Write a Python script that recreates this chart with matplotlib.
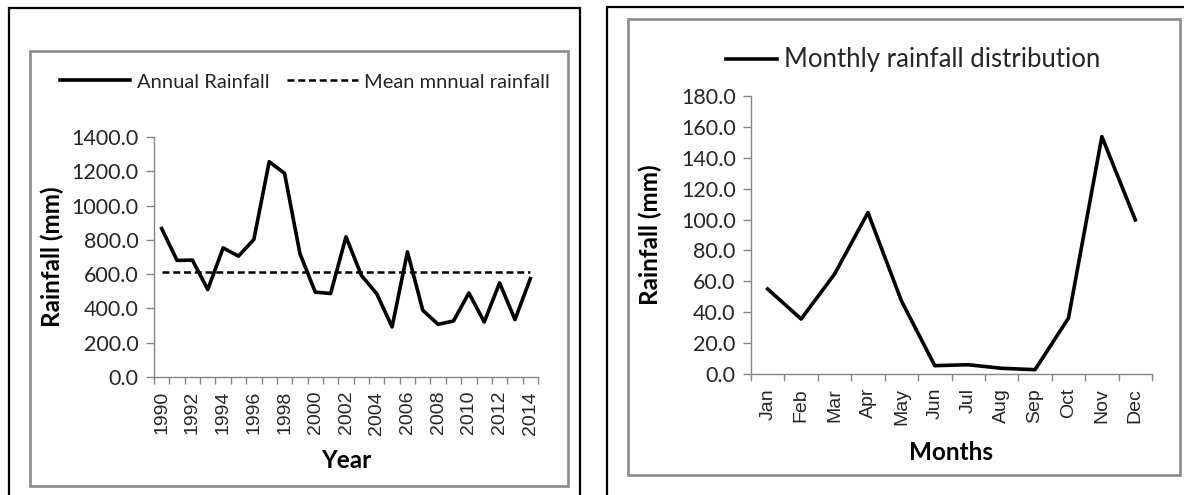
import matplotlib
matplotlib.use("Agg")
import matplotlib.pyplot as plt
from matplotlib.patches import Rectangle
from matplotlib.lines import Line2D
import numpy as np

# annual totals 1990-2014 and the long-term mean
years = list(range(1990, 2015))
annual_rain = [866, 680, 682, 510, 753, 705, 802, 1256, 1188, 720, 495, 487, 818,
               593, 486, 292, 730, 389, 307, 327, 490, 321, 549, 335, 574]
mean_rain = 610

# mean monthly rainfall
months = ["Jan", "Feb", "Mar", "Apr", "May", "Jun", "Jul", "Aug", "Sep", "Oct", "Nov", "Dec"]
monthly_rain = [55.0, 35.6, 64.7, 104.5, 47.4, 5.4, 6.0, 3.7, 2.8, 36.2, 153.7, 99.8]

W, H = 1184, 495
fig = plt.figure(figsize=(W / 100, H / 100), dpi=100)
plt.rcParams["font.family"] = ["Lato", "DejaVu Sans"]

AXIS_GREY = "#868686"
TEXT = "#262626"
LINE_W = 2.6


def fx(x):
    return x / W


def fy(y):
    return 1 - y / H


def box(x0, y0, x1, y1, color, lw):
    fig.add_artist(Rectangle((fx(x0), fy(y1)), fx(x1) - fx(x0), fy(y0) - fy(y1),
                             transform=fig.transFigure, fill=False,
                             edgecolor=color, linewidth=lw, clip_on=False))


def make_axes(x0, y0, x1, y1):
    ax = fig.add_axes([fx(x0), fy(y1), fx(x1) - fx(x0), fy(y0) - fy(y1)])
    for s in ("top", "right"):
        ax.spines[s].set_visible(False)
    for s in ("left", "bottom"):
        ax.spines[s].set_color(AXIS_GREY)
        ax.spines[s].set_linewidth(1.0)
    ax.tick_params(axis="y", direction="out", length=6, width=1.0, color=AXIS_GREY,
                   labelsize=15.5, labelcolor=TEXT, pad=5)
    ax.tick_params(axis="x", which="major", direction="out", length=5, width=1.0,
                   color=AXIS_GREY, labelbottom=False)
    ax.tick_params(axis="x", which="minor", length=0, pad=10, labelsize=14,
                   labelcolor=TEXT)
    return ax


def category_axis(ax, labels, step):
    n = len(labels)
    ax.set_xlim(-0.5, n - 0.5)
    ax.set_xticks(np.arange(-0.5, n, 1.0))
    centers = np.arange(n)[::step]
    ax.set_xticks(centers, minor=True)
    ax.set_xticklabels([labels[i] for i in centers], minor=True, rotation=90,
                       family=["Liberation Sans"])


# panel frames
box(9, 8, 580, 520, "black", 1.6)
box(30, 51, 568, 486, "#8c8c8c", 1.9)
box(607, 7, 1200, 520, "black", 1.6)
box(628, 19, 1180, 475, "#8c8c8c", 1.9)

# ---- annual rainfall ----
ax1 = make_axes(154, 137, 538, 377)
x1 = np.arange(len(years))
ax1.plot(x1, annual_rain, color="black", linewidth=LINE_W)
ax1.plot(x1, [mean_rain] * len(years), color="black", linewidth=1.8,
         linestyle=(0, (2.8, 1.5)))
ax1.set_ylim(0, 1400)
ax1.set_yticks(np.arange(0, 1401, 200))
ax1.set_yticklabels([f"{v:.1f}" for v in np.arange(0, 1401, 200)])
category_axis(ax1, [str(y) for y in years], 2)

handles1 = [Line2D([], [], color="black", linewidth=LINE_W),
            Line2D([], [], color="black", linewidth=1.8, linestyle=(0, (2.8, 1.5)))]
fig.legend(handles1, ["Annual Rainfall", "Mean mnnual rainfall"], ncol=2,
           loc="center left", bbox_to_anchor=(fx(60), fy(82)), frameon=False,
           fontsize=14.5, handlelength=3.5, handletextpad=0.3, columnspacing=0.9,
           labelcolor=TEXT, borderpad=0, borderaxespad=0)

fig.text(fx(52), fy(257), "Rainfall (mm)", rotation=90, ha="center", va="center",
         fontsize=17.5, fontweight="bold", color="black")
fig.text(fx(346), fy(460), "Year", ha="center", va="center",
         fontsize=17.5, fontweight="bold", color="black")

# ---- monthly rainfall ----
ax2 = make_axes(751, 96, 1152, 374)
x2 = np.arange(len(months))
ax2.plot(x2, monthly_rain, color="black", linewidth=LINE_W)
ax2.set_ylim(0, 180)
ax2.set_yticks(np.arange(0, 181, 20))
ax2.set_yticklabels([f"{v:.1f}" for v in np.arange(0, 181, 20)])
category_axis(ax2, months, 1)

fig.legend([Line2D([], [], color="black", linewidth=LINE_W)],
           ["Monthly rainfall distribution"], loc="center left",
           bbox_to_anchor=(fx(726), fy(60)), frameon=False, fontsize=18.5,
           handlelength=2.0, handletextpad=0.25, labelcolor=TEXT,
           borderpad=0, borderaxespad=0)

fig.text(fx(650), fy(235), "Rainfall (mm)", rotation=90, ha="center", va="center",
         fontsize=17.5, fontweight="bold", color="black")
fig.text(fx(951), fy(452), "Months", ha="center", va="center",
         fontsize=17.5, fontweight="bold", color="black")

fig.savefig("out.png", dpi=100)
